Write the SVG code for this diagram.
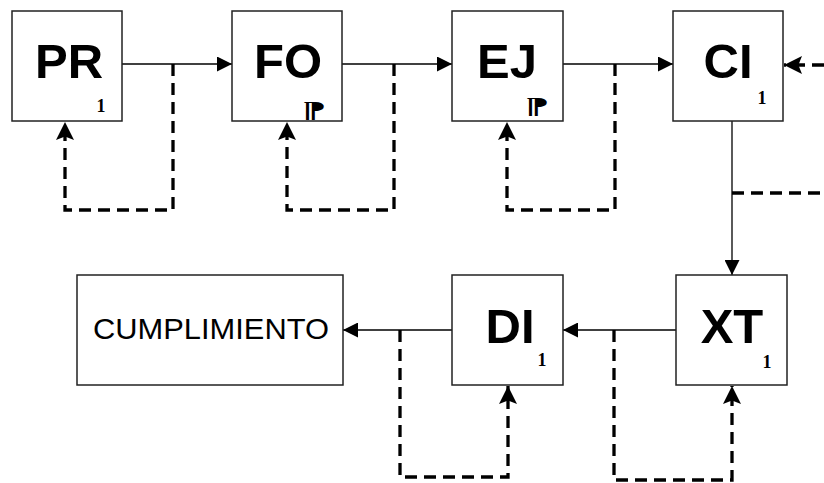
<svg xmlns="http://www.w3.org/2000/svg" width="824" height="483" viewBox="0 0 824 483">
<defs>
<style>
.box{fill:#fff;stroke:#222;stroke-width:1.5}
.lbl{font-family:"Liberation Sans",Arial,sans-serif;font-weight:bold;font-size:49px;fill:#000;text-anchor:middle}
.sub{font-family:"Liberation Serif","Times New Roman",serif;font-weight:bold;font-size:18px;fill:#000;text-anchor:middle}
.blob{font-family:"Liberation Serif","Times New Roman",serif;font-weight:bold;font-size:24px;fill:#000;text-anchor:middle}
.txt{font-family:"Liberation Sans",Arial,sans-serif;font-size:30px;fill:#000;text-anchor:middle}
.solid{fill:none;stroke:#000;stroke-width:1.3}
.dash{fill:none;stroke:#000;stroke-width:3.3;stroke-dasharray:12 7}
</style>
<marker id="ah" viewBox="0 0 10 10" refX="10" refY="5" markerWidth="15" markerHeight="15" markerUnits="userSpaceOnUse" orient="auto">
<path d="M0,0 L10,5 L0,10 z" fill="#000"/>
</marker>
<marker id="ahd" viewBox="0 0 10 10" refX="10" refY="5" markerWidth="18" markerHeight="18" markerUnits="userSpaceOnUse" orient="auto">
<path d="M0,0 L10,5 L0,10 L2,5 z" fill="#000"/>
</marker>
</defs>
<rect width="824" height="483" fill="#fff"/>
<g id="connectors">
<line class="solid" x1="122" y1="64" x2="232" y2="64" marker-end="url(#ah)"/>
<line class="solid" x1="342" y1="64" x2="452" y2="64" marker-end="url(#ah)"/>
<line class="solid" x1="563" y1="64" x2="673" y2="64" marker-end="url(#ah)"/>
<line class="solid" x1="732" y1="121" x2="732" y2="275" marker-end="url(#ah)"/>
<line class="solid" x1="676" y1="330" x2="563" y2="330" marker-end="url(#ah)"/>
<line class="solid" x1="452" y1="330" x2="343" y2="330" marker-end="url(#ah)"/>
<polyline class="dash" points="173,64 173,210 65,210 65,122" marker-end="url(#ahd)"/>
<polyline class="dash" points="394,64 394,210 287,210 287,122" marker-end="url(#ahd)"/>
<polyline class="dash" points="615,64 615,210 507,210 507,122" marker-end="url(#ahd)"/>
<line class="dash" x1="824" y1="65" x2="784" y2="65" marker-end="url(#ahd)"/>
<line class="dash" x1="732" y1="193" x2="824" y2="193"/>
<polyline class="dash" points="400,330 400,477 508,477 508,386" marker-end="url(#ahd)"/>
<polyline class="dash" points="614,330 614,480 732,480 732,386" marker-end="url(#ahd)"/>
</g>
<g id="node-pr">
<rect class="box" x="12" y="11" width="110" height="110"/>
<text class="lbl" x="69" y="78">PR</text>
<text class="sub" x="101" y="112">1</text>
</g>
<g id="node-fo">
<rect class="box" x="232" y="11" width="110" height="110"/>
<text class="lbl" x="288" y="78">FO</text>
<text class="blob" transform="translate(314,117) scale(-1.8,1)" x="0" y="0">¶</text>
</g>
<g id="node-ej">
<rect class="box" x="452" y="11" width="111" height="110"/>
<text class="lbl" x="507" y="78">EJ</text>
<text class="blob" transform="translate(537,113) scale(-1.8,1)" x="0" y="0">¶</text>
</g>
<g id="node-ci">
<rect class="box" x="673" y="11" width="110" height="110"/>
<text class="lbl" x="728" y="78">CI</text>
<text class="sub" x="762" y="104">1</text>
</g>
<g id="node-xt">
<rect class="box" x="676" y="275" width="111" height="110"/>
<text class="lbl" x="732" y="343">XT</text>
<text class="sub" x="767" y="368">1</text>
</g>
<g id="node-di">
<rect class="box" x="452" y="275" width="111" height="110"/>
<text class="lbl" x="510" y="343">DI</text>
<text class="sub" x="542" y="366">1</text>
</g>
<g id="node-cumplimiento">
<rect class="box" x="77" y="275" width="266" height="110"/>
<text class="txt" x="211" y="339" textLength="236" lengthAdjust="spacingAndGlyphs">CUMPLIMIENTO</text>
</g>
</svg>
